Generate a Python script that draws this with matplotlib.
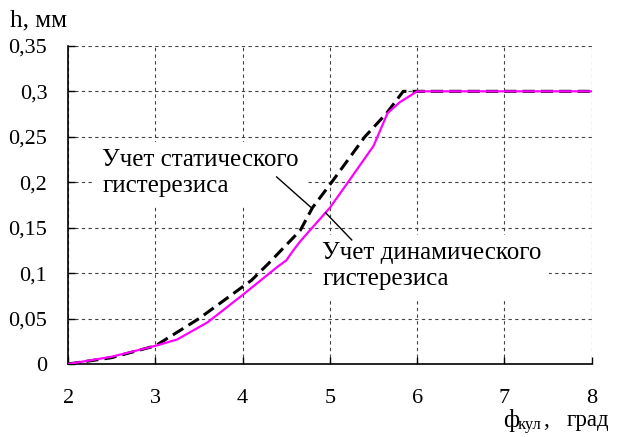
import matplotlib.pyplot as plt

plt.rcParams['font.family'] = ['Liberation Serif', 'DejaVu Serif']

# Static hysteresis (dashed) and dynamic hysteresis (magenta) curves
phi_static = [2, 2.5, 3, 3.5, 3.9, 4.1, 4.3, 4.66, 4.8, 5.02, 5.4, 5.65, 5.84, 6, 7, 8]
h_static = [0, 0.007, 0.02, 0.05, 0.078, 0.092, 0.111, 0.147, 0.172, 0.2, 0.25, 0.276, 0.3, 0.3, 0.3, 0.3]

phi_dyn = [2, 2.5, 3, 3.25, 3.6, 4.0, 4.4, 4.5, 4.58, 4.66, 5.0, 5.2, 5.5, 5.66, 5.8, 6.0, 7, 8]
h_dyn = [0, 0.008, 0.02, 0.027, 0.046, 0.076, 0.107, 0.114, 0.125, 0.135, 0.172, 0.199, 0.24, 0.276, 0.288, 0.3, 0.3, 0.3]

x_ticks = [2, 3, 4, 5, 6, 7, 8]
y_ticks = [0, 0.05, 0.1, 0.15, 0.2, 0.25, 0.3, 0.35]
y_labels = ['0', '0,05', '0,1', '0,15', '0,2', '0,25', '0,3', '0,35']

fig = plt.figure(figsize=(6.19, 4.37), dpi=100)
ax = fig.add_axes([0.110, 0.167, 0.846, 0.728])

ax.plot(phi_static, h_static, color='black', lw=2.2, dashes=(4, 2), zorder=4)
ax.plot(phi_dyn, h_dyn, color='#ff00ff', lw=1.6, zorder=5)

ax.set_xlim(2, 8)
ax.set_ylim(0, 0.35)
ax.set_xticks(x_ticks)
ax.set_yticks(y_ticks)
ax.set_yticklabels(y_labels)
ax.xaxis.set_tick_params(direction='in', length=5, width=1, labelsize=16, pad=18)
ax.yaxis.set_tick_params(direction='in', length=5, width=1, labelsize=16, pad=15)

ax.grid(True, color='#444444', lw=0.8, linestyle=(0, (3, 3)), zorder=1)
ax.set_axisbelow(True)
for side in ['top', 'right']:
    ax.spines[side].set_visible(False)
for side in ['left', 'bottom']:
    ax.spines[side].set_linewidth(1.2)

# Callout labels with white boxes hiding the grid
box = dict(boxstyle='square,pad=0.3', facecolor='white', edgecolor='none')
ax.text(2.39, 0.210, 'Учет статического\nгистерезиса', fontsize=18,
        ha='left', va='center', linespacing=1.25, bbox=box, zorder=3)
ax.text(4.91, 0.1075, 'Учет динамического\nгистерезиса', fontsize=18,
        ha='left', va='center', linespacing=1.25, bbox=box, zorder=3)
ax.plot([4.39, 4.79], [0.2058, 0.1717], color='black', lw=1, zorder=6)
ax.plot([4.95, 5.25], [0.1665, 0.1365], color='black', lw=1, zorder=6)

# Axis titles
fig.text(0.016, 0.954, 'h, мм', fontsize=18, ha='left', va='center')
fig.text(0.812, 0.038, 'ф', fontsize=18, ha='left', va='center')
fig.text(0.836, 0.028, 'кул', fontsize=12, ha='left', va='center')
fig.text(0.878, 0.038, ',', fontsize=17, ha='left', va='center')
fig.text(0.916, 0.038, 'град', fontsize=16.5, ha='left', va='center')

fig.savefig('out.png', dpi=100)
